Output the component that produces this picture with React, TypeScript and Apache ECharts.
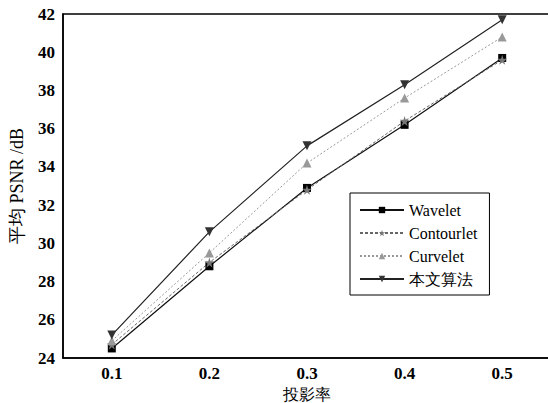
import React, { useEffect, useRef } from "react";
import * as echarts from "echarts";

const categories = ["0.1", "0.2", "0.3", "0.4", "0.5"];
const wavelet = [24.5, 28.8, 32.9, 36.2, 39.7];
const contourlet = [24.7, 29.0, 32.8, 36.4, 39.6];
const curvelet = [24.9, 29.5, 34.2, 37.6, 40.8];
const proposed = [25.2, 30.6, 35.1, 38.3, 41.7];
const seriesNames = ["Wavelet", "Contourlet", "Curvelet", "本文算法"];

const STAR =
  "path://M50,0 L61,35 L98,35 L68,57 L79,91 L50,70 L21,91 L32,57 L2,35 L39,35 Z";

const FONT = "Liberation Serif";

export default function App() {
  const ref = useRef<HTMLDivElement>(null);
  useEffect(() => {
    const chart = echarts.init(ref.current!, null, { renderer: "svg" });
    chart.setOption({
      animation: false,
      backgroundColor: "#fff",
      textStyle: { fontFamily: FONT },
      grid: {
        left: 63,
        right: -3,
        top: 14,
        bottom: 45,
        outerBoundsMode: "none",
        containLabel: false,
        show: true,
        borderColor: "#000",
        borderWidth: 1.5,
      },
      legend: {
        orient: "vertical",
        left: 350,
        top: 193,
        width: 151,
        height: 100,
        padding: [9, 12, 8, 9],
        borderColor: "#000",
        borderWidth: 1,
        itemWidth: 44,
        itemHeight: 8,
        itemGap: 7,
        data: seriesNames,
        textStyle: { fontFamily: FONT, fontSize: 16, color: "#000" },
      },
      xAxis: {
        type: "category",
        data: categories,
        boundaryGap: true,
        name: "投影率",
        nameLocation: "middle",
        nameGap: 17,
        nameTextStyle: { fontFamily: FONT, fontSize: 16, color: "#000" },
        axisLine: { lineStyle: { color: "#000", width: 1.5 } },
        axisTick: { show: false },
        axisLabel: { fontFamily: FONT, fontSize: 17, fontWeight: "bold", color: "#000", margin: 7 },
        splitLine: { show: false },
      },
      yAxis: {
        type: "value",
        min: 24,
        max: 42,
        interval: 2,
        name: "平均 PSNR /dB",
        nameLocation: "middle",
        nameGap: 37,
        nameTextStyle: { fontFamily: FONT, fontSize: 18, color: "#000" },
        axisLine: { show: true, lineStyle: { color: "#000", width: 1.5 } },
        axisTick: { show: false },
        axisLabel: { fontFamily: FONT, fontSize: 17, fontWeight: "bold", color: "#000", margin: 8 },
        splitLine: { show: false },
      },
      series: [
        {
          name: "Wavelet",
          type: "line",
          data: wavelet,
          symbol: "rect",
          symbolSize: 8,
          itemStyle: { color: "#000" },
          lineStyle: { color: "#111", width: 1.2, type: "solid" },
        },
        {
          name: "Contourlet",
          type: "line",
          data: contourlet,
          symbol: STAR,
          symbolSize: 10,
          itemStyle: { color: "#777" },
          lineStyle: { color: "#666", width: 1, type: [3, 2] },
        },
        {
          name: "Curvelet",
          type: "line",
          data: curvelet,
          symbol: "triangle",
          symbolSize: 9,
          itemStyle: { color: "#999" },
          lineStyle: { color: "#999", width: 1, type: [2, 2] },
        },
        {
          name: "本文算法",
          type: "line",
          data: proposed,
          symbol: "triangle",
          symbolRotate: 180,
          symbolSize: 9,
          itemStyle: { color: "#333" },
          lineStyle: { color: "#222", width: 1.2, type: "solid" },
        },
      ],
    });
    return () => chart.dispose();
  }, []);
  return <div ref={ref} style={{ width: 548, height: 403, position: "absolute", left: 0, top: 0 }} />;
}
